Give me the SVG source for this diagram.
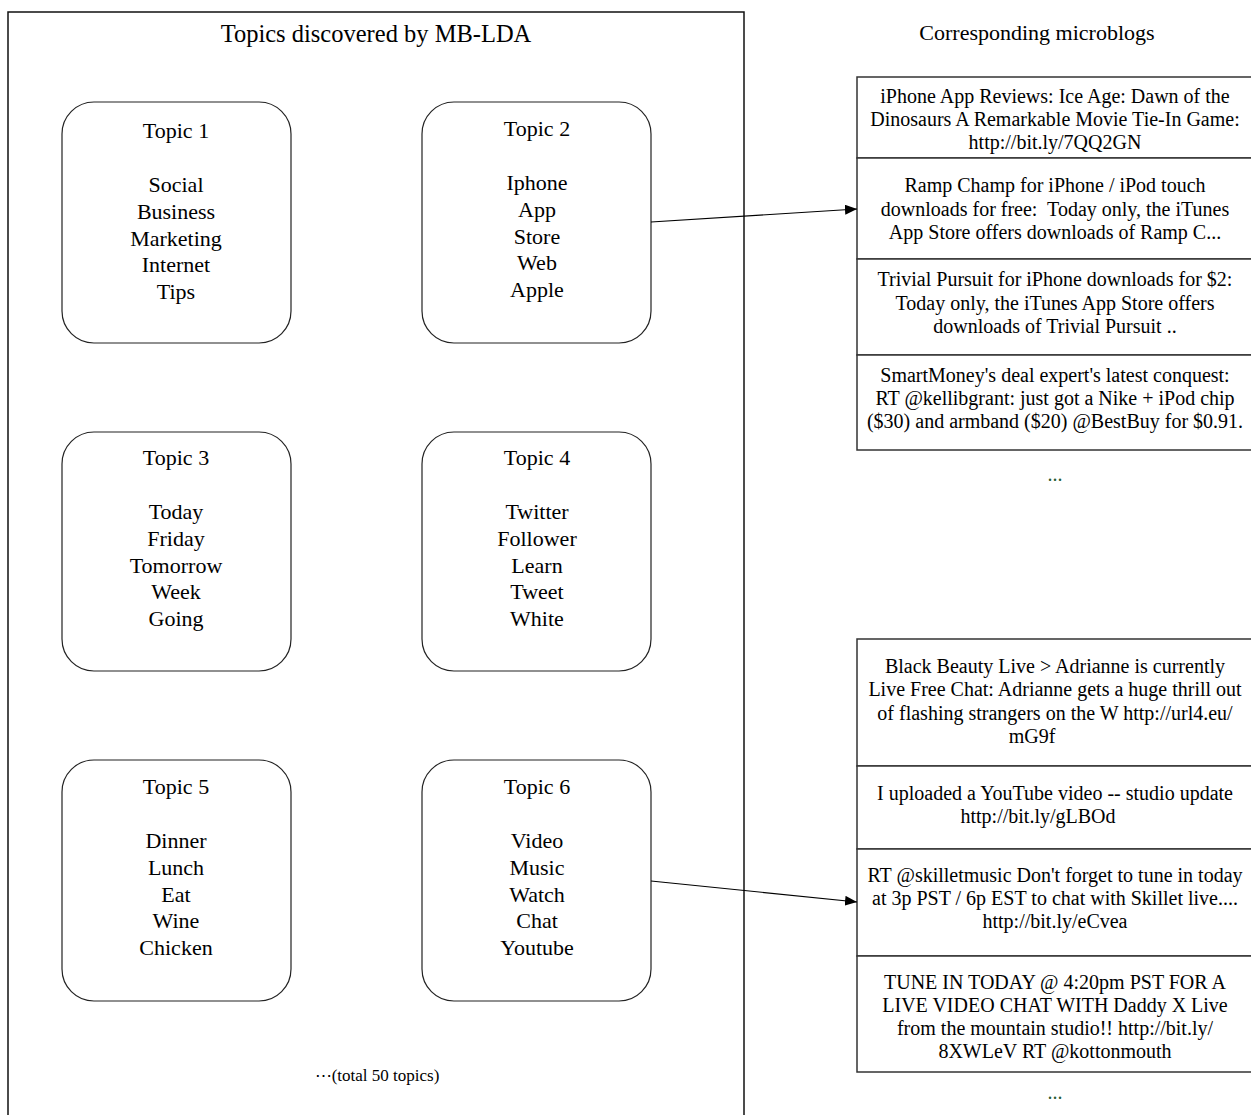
<svg xmlns="http://www.w3.org/2000/svg" width="1251" height="1115" viewBox="0 0 1251 1115">
<style>
text{font-family:"Liberation Serif","Times New Roman",serif;fill:#000;text-anchor:middle}
.t{font-size:22px}
.m{font-size:20px}
.topic{fill:#fff;stroke:#222;stroke-width:1.2}
.mb{fill:#fff;stroke:#333;stroke-width:1.5}
.frame{fill:none;stroke:#111;stroke-width:1.5}
.dots{fill:#2a5a35;font-size:20px}
.conn{stroke:#000;stroke-width:1.2;fill:none}
</style>
<defs>
<marker id="ah" viewBox="0 0 12 10" refX="12" refY="5" markerWidth="12" markerHeight="10" markerUnits="userSpaceOnUse" orient="auto">
<path d="M0,0 L12,5 L0,10 Z" fill="#000"/>
</marker>
</defs>
<rect width="1251" height="1115" fill="#fff"/>
<g id="frame">
<rect class="frame" x="8" y="12" width="736" height="1110"/>
<text class="t" x="376" y="42" style="font-size:24.5px">Topics discovered by MB-LDA</text>
<text class="t" x="377" y="1081" style="font-size:17px">⋯(total 50 topics)</text>
</g>
<text class="t" x="1037" y="40">Corresponding microblogs</text>

<g id="topic1">
<rect class="topic" x="62" y="102" width="229" height="241" rx="32" ry="32"/>
<text class="t" x="176" y="138">Topic 1</text>
<text class="t" x="176" y="192">Social</text>
<text class="t" x="176" y="219">Business</text>
<text class="t" x="176" y="246">Marketing</text>
<text class="t" x="176" y="272">Internet</text>
<text class="t" x="176" y="299">Tips</text>
</g>
<g id="topic2">
<rect class="topic" x="422" y="102" width="229" height="241" rx="32" ry="32"/>
<text class="t" x="537" y="136">Topic 2</text>
<text class="t" x="537" y="190">Iphone</text>
<text class="t" x="537" y="217">App</text>
<text class="t" x="537" y="244">Store</text>
<text class="t" x="537" y="270">Web</text>
<text class="t" x="537" y="297">Apple</text>
</g>
<g id="topic3">
<rect class="topic" x="62" y="432" width="229" height="239" rx="32" ry="32"/>
<text class="t" x="176" y="465">Topic 3</text>
<text class="t" x="176" y="519">Today</text>
<text class="t" x="176" y="546">Friday</text>
<text class="t" x="176" y="573">Tomorrow</text>
<text class="t" x="176" y="599">Week</text>
<text class="t" x="176" y="626">Going</text>
</g>
<g id="topic4">
<rect class="topic" x="422" y="432" width="229" height="239" rx="32" ry="32"/>
<text class="t" x="537" y="465">Topic 4</text>
<text class="t" x="537" y="519">Twitter</text>
<text class="t" x="537" y="546">Follower</text>
<text class="t" x="537" y="573">Learn</text>
<text class="t" x="537" y="599">Tweet</text>
<text class="t" x="537" y="626">White</text>
</g>
<g id="topic5">
<rect class="topic" x="62" y="760" width="229" height="241" rx="32" ry="32"/>
<text class="t" x="176" y="794">Topic 5</text>
<text class="t" x="176" y="848">Dinner</text>
<text class="t" x="176" y="875">Lunch</text>
<text class="t" x="176" y="902">Eat</text>
<text class="t" x="176" y="928">Wine</text>
<text class="t" x="176" y="955">Chicken</text>
</g>
<g id="topic6">
<rect class="topic" x="422" y="760" width="229" height="241" rx="32" ry="32"/>
<text class="t" x="537" y="794">Topic 6</text>
<text class="t" x="537" y="848">Video</text>
<text class="t" x="537" y="875">Music</text>
<text class="t" x="537" y="902">Watch</text>
<text class="t" x="537" y="928">Chat</text>
<text class="t" x="537" y="955">Youtube</text>
</g>

<g id="mb1">
<rect class="mb" x="857" y="77" width="400" height="81"/>
<text class="m" x="1055" y="103">iPhone App Reviews: Ice Age: Dawn of the</text>
<text class="m" x="1055" y="126">Dinosaurs A Remarkable Movie Tie-In Game:</text>
<text class="m" x="1055" y="149">http://bit.ly/7QQ2GN</text>
</g>
<g id="mb2">
<rect class="mb" x="857" y="158" width="400" height="101"/>
<text class="m" x="1055" y="192">Ramp Champ for iPhone / iPod touch</text>
<text class="m" x="1055" y="216" xml:space="preserve">downloads for free:  Today only, the iTunes</text>
<text class="m" x="1055" y="239">App Store offers downloads of Ramp C...</text>
</g>
<g id="mb3">
<rect class="mb" x="857" y="259" width="400" height="96"/>
<text class="m" x="1055" y="286">Trivial Pursuit for iPhone downloads for $2:</text>
<text class="m" x="1055" y="310">Today only, the iTunes App Store offers</text>
<text class="m" x="1055" y="333">downloads of Trivial Pursuit ..</text>
</g>
<g id="mb4">
<rect class="mb" x="857" y="355" width="400" height="95"/>
<text class="m" x="1055" y="382">SmartMoney's deal expert's latest conquest:</text>
<text class="m" x="1055" y="405">RT @kellibgrant: just got a Nike + iPod chip</text>
<text class="m" x="1055" y="428">($30) and armband ($20) @BestBuy for $0.91.</text>
</g>
<text class="dots" x="1055" y="481">...</text>

<g id="mb5">
<rect class="mb" x="857" y="639" width="400" height="127"/>
<text class="m" x="1055" y="673">Black Beauty Live &gt; Adrianne is currently</text>
<text class="m" x="1055" y="696">Live Free Chat: Adrianne gets a huge thrill out</text>
<text class="m" x="1055" y="720">of flashing strangers on the W http://url4.eu/</text>
<text class="m" x="1032" y="743">mG9f</text>
</g>
<g id="mb6">
<rect class="mb" x="857" y="766" width="400" height="83"/>
<text class="m" x="1055" y="800">I uploaded a YouTube video -- studio update</text>
<text class="m" x="1038" y="823">http://bit.ly/gLBOd</text>
</g>
<g id="mb7">
<rect class="mb" x="857" y="849" width="400" height="107"/>
<text class="m" x="1055" y="882">RT @skilletmusic Don't forget to tune in today</text>
<text class="m" x="1055" y="905">at 3p PST / 6p EST to chat with Skillet live....</text>
<text class="m" x="1055" y="928">http://bit.ly/eCvea</text>
</g>
<g id="mb8">
<rect class="mb" x="857" y="956" width="400" height="116"/>
<text class="m" x="1055" y="989">TUNE IN TODAY @ 4:20pm PST FOR A</text>
<text class="m" x="1055" y="1012">LIVE VIDEO CHAT WITH Daddy X Live</text>
<text class="m" x="1055" y="1035">from the mountain studio!! http://bit.ly/</text>
<text class="m" x="1055" y="1058">8XWLeV RT @kottonmouth</text>
</g>
<text class="dots" x="1055" y="1099">...</text>

<g id="connectors">
<line class="conn" x1="651" y1="222" x2="857" y2="209" marker-end="url(#ah)"/>
<line class="conn" x1="651" y1="881" x2="857" y2="902" marker-end="url(#ah)"/>
</g>
</svg>
